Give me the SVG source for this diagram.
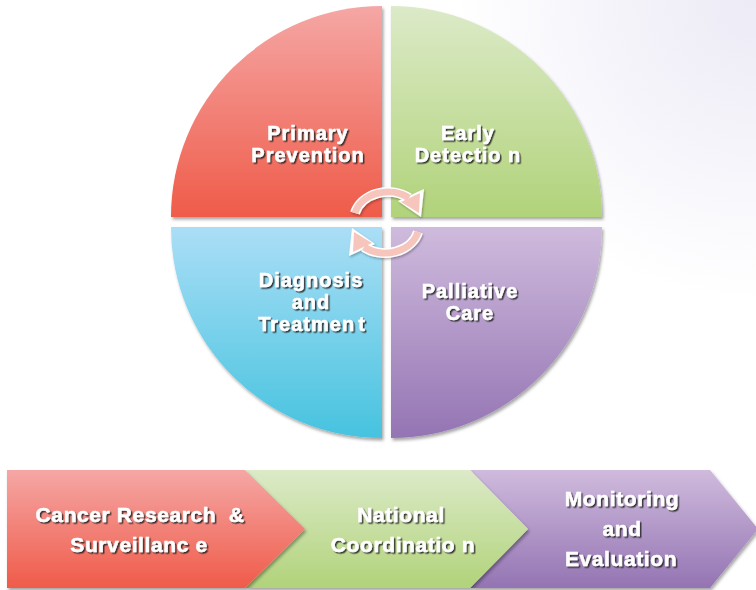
<svg xmlns="http://www.w3.org/2000/svg" width="756" height="590" viewBox="0 0 756 590">
<defs>
  <radialGradient id="bg" cx="756" cy="0" r="300" gradientUnits="userSpaceOnUse">
    <stop offset="0" stop-color="#ECEBF6"/>
    <stop offset="0.55" stop-color="#F6F5FB"/>
    <stop offset="1" stop-color="#FFFFFF"/>
  </radialGradient>
  <linearGradient id="gRed" x1="0" y1="0" x2="0" y2="1">
    <stop offset="0" stop-color="#F5A7A5"/>
    <stop offset="1" stop-color="#EF5B49"/>
  </linearGradient>
  <linearGradient id="gGreen" x1="0" y1="0" x2="0" y2="1">
    <stop offset="0" stop-color="#DCEAC8"/>
    <stop offset="1" stop-color="#B1D37A"/>
  </linearGradient>
  <linearGradient id="gBlue" x1="0" y1="0" x2="0" y2="1">
    <stop offset="0" stop-color="#ABDEF6"/>
    <stop offset="1" stop-color="#46C3DF"/>
  </linearGradient>
  <linearGradient id="gPurple" x1="0" y1="0" x2="0" y2="1">
    <stop offset="0" stop-color="#CFBBDD"/>
    <stop offset="1" stop-color="#9474B3"/>
  </linearGradient>
  <filter id="shape" x="-10%" y="-10%" width="120%" height="125%">
    <feDropShadow dx="1.5" dy="2.5" stdDeviation="1.5" flood-color="#000" flood-opacity="0.35"/>
  </filter>
  <filter id="txt" x="-10%" y="-30%" width="120%" height="160%">
    <feDropShadow dx="1.5" dy="1.5" stdDeviation="0.5" flood-color="#1a1a1a" flood-opacity="0.85"/>
  </filter>
  <filter id="arr" x="-20%" y="-30%" width="140%" height="160%">
    <feDropShadow dx="1" dy="1.5" stdDeviation="1" flood-color="#000" flood-opacity="0.3"/>
  </filter>
  <g id="cycArrow">
    <path d="M355,213 A34,28 0 0 1 409,198" fill="none" stroke="#FFFFFF" stroke-width="10"/>
    <polygon points="398,201 424,189 421,217" fill="#FFFFFF"/>
    <path d="M355,213 A34,28 0 0 1 409,198" fill="none" stroke="#F6C6BD" stroke-width="7"/>
    <polygon points="401,202 420,193 419,213" fill="#F6C6BD"/>
  </g>
</defs>
<style>
  .lbl { font-family: "Liberation Sans", Arial, sans-serif; font-weight: bold; fill: #FFFFFF; stroke: #FFFFFF; stroke-width: 0.5px; text-anchor: middle; filter: url(#txt); }
  .q { font-size: 20px; letter-spacing: 1px; }
  .c { font-size: 21px; letter-spacing: 0.6px; }
</style>
<rect x="0" y="0" width="756" height="590" fill="url(#bg)"/>

<g id="primary-prevention">
  <path d="M382,217 L171,217 A211,211 0 0 1 382,6 Z" fill="url(#gRed)" filter="url(#shape)"/>
  <text class="lbl q" x="308" y="140">Primary</text>
  <text class="lbl q" x="308" y="162">Prevention</text>
</g>
<g id="early-detection">
  <path d="M391,217 L391,6 A211,211 0 0 1 602,217 Z" fill="url(#gGreen)" filter="url(#shape)"/>
  <text class="lbl q" x="468" y="140">Early</text>
  <text class="lbl q" x="468" y="162">Detectio n</text>
</g>
<g id="diagnosis-treatment">
  <path d="M382,227 L382,438 A211,211 0 0 1 171,227 Z" fill="url(#gBlue)" filter="url(#shape)"/>
  <text class="lbl q" x="311" y="287">Diagnosis</text>
  <text class="lbl q" x="311" y="309">and</text>
  <text class="lbl q" x="312" y="331">Treatmen<tspan dx="3">t</tspan></text>
</g>
<g id="palliative-care">
  <path d="M391,227 L602,227 A211,211 0 0 1 391,438 Z" fill="url(#gPurple)" filter="url(#shape)"/>
  <text class="lbl q" x="470" y="298">Palliative</text>
  <text class="lbl q" x="470" y="320">Care</text>
</g>

<g id="connectors" filter="url(#arr)">
  <use href="#cycArrow"/>
  <use href="#cycArrow" transform="rotate(180 386.5 222.5)"/>
</g>

<g id="monitoring-evaluation">
  <polygon points="470,470 710,470 758,529 710,588 470,588 528,529" fill="url(#gPurple)" filter="url(#shape)"/>
  <text class="lbl c" x="622" y="506">Monitoring</text>
  <text class="lbl c" x="622" y="536">and</text>
  <text class="lbl c" x="621" y="566">Evaluation</text>
</g>
<g id="national-coordination">
  <polygon points="245,470 470,470 528,529 470,588 245,588 305,529" fill="url(#gGreen)" filter="url(#shape)"/>
  <text class="lbl c" x="401" y="522">National</text>
  <text class="lbl c" x="403" y="552">Coordinatio n</text>
</g>
<g id="cancer-research">
  <polygon points="7,470 245,470 305,529 245,588 7,588" fill="url(#gRed)" filter="url(#shape)"/>
  <text class="lbl c" x="140" y="522">Cancer Research <tspan dx="6">&amp;</tspan></text>
  <text class="lbl c" x="139" y="552">Surveillanc e</text>
</g>
</svg>
